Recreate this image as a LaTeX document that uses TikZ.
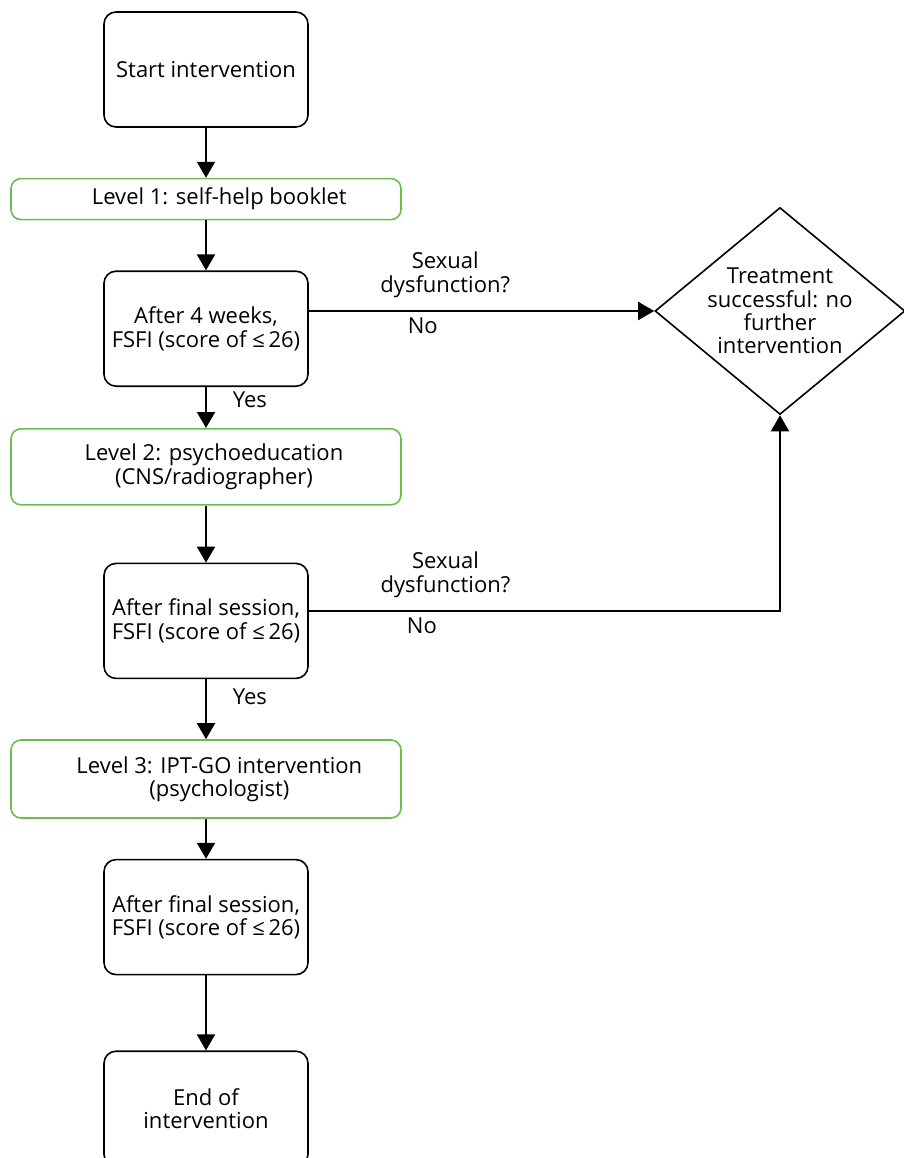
\documentclass[tikz,border=0pt]{standalone}
\usepackage{fontspec}
\setmainfont{Open Sans}
\usetikzlibrary{arrows.meta,positioning,shapes.geometric,calc}
\definecolor{levelgreen}{RGB}{106,190,75}

\begin{document}
\begin{tikzpicture}[x=0.75pt,y=-0.75pt,font=\fontsize{16.5}{17.5}\selectfont,
    every node/.style={align=center},
    stepbox/.style={draw,line width=1.2pt,rounded corners=9pt,minimum width=153pt,minimum height=86.25pt},
    levelbox/.style={draw=levelgreen,line width=1.2pt,rounded corners=7.5pt,minimum width=292.5pt},
    flow/.style={-{Triangle[length=12pt,width=13.5pt]},line width=1.5pt}]
      \useasboundingbox (0,0) rectangle (904,1158);
      \node[stepbox] (start) at (206,69.5) {Start intervention};
      \node[levelbox,minimum height=30.75pt,below=37.5pt of start] (lvl1) {\hspace*{20pt}Level 1: self-help booklet};
      \node[stepbox,below=37.5pt of lvl1] (wk4) {After 4 weeks,\\FSFI (score of ≤\,26)};
      \node[levelbox,minimum height=57pt,below=30.75pt of wk4] (lvl2) {\hspace*{12pt}Level 2: psychoeducation\\\hspace*{12pt}(CNS/radiographer)};
      \node[stepbox,below=42.75pt of lvl2] (af1) {After final session,\\FSFI (score of ≤\,26)};
      \node[levelbox,minimum height=58.5pt,below=45pt of af1] (lvl3) {\hspace*{20pt}Level 3: IPT-GO intervention\\\hspace*{20pt}(psychologist)};
      \node[stepbox,below=30pt of lvl3] (af2) {After final session,\\FSFI (score of ≤\,26)};
      \node[stepbox,below=56.25pt of af2] (end) {End of\\intervention};
      \node[draw,diamond,line width=1.2pt,inner sep=-4pt,aspect=1.2,minimum width=187.5pt,minimum height=155.25pt] (done) at (780,311) {Treatment\\successful: no\\further\\intervention};
      \draw[flow] (start)--(lvl1);
      \draw[flow] (lvl1)--(wk4);
      \draw[flow] (wk4)--node[right=16pt,pos=0.3]{Yes}(lvl2);
      \draw[flow] (lvl2)--(af1);
      \draw[flow] (af1)--node[right=16pt,pos=0.3]{Yes}(lvl3);
      \draw[flow] (lvl3)--(af2);
      \draw[flow] (af2)--(end);
      \draw[flow] (wk4.east |- done.west)--node[above=6pt,pos=0.395]{Sexual\\dysfunction?}node[below=1pt,pos=0.33]{No}(done.west);
      \draw[flow] ([yshift=7.5pt]af1.east)-|node[above=6pt,pos=0.145]{Sexual\\dysfunction?}node[below=1pt,pos=0.12]{No}(done.south);
    \end{tikzpicture}
\end{document}
